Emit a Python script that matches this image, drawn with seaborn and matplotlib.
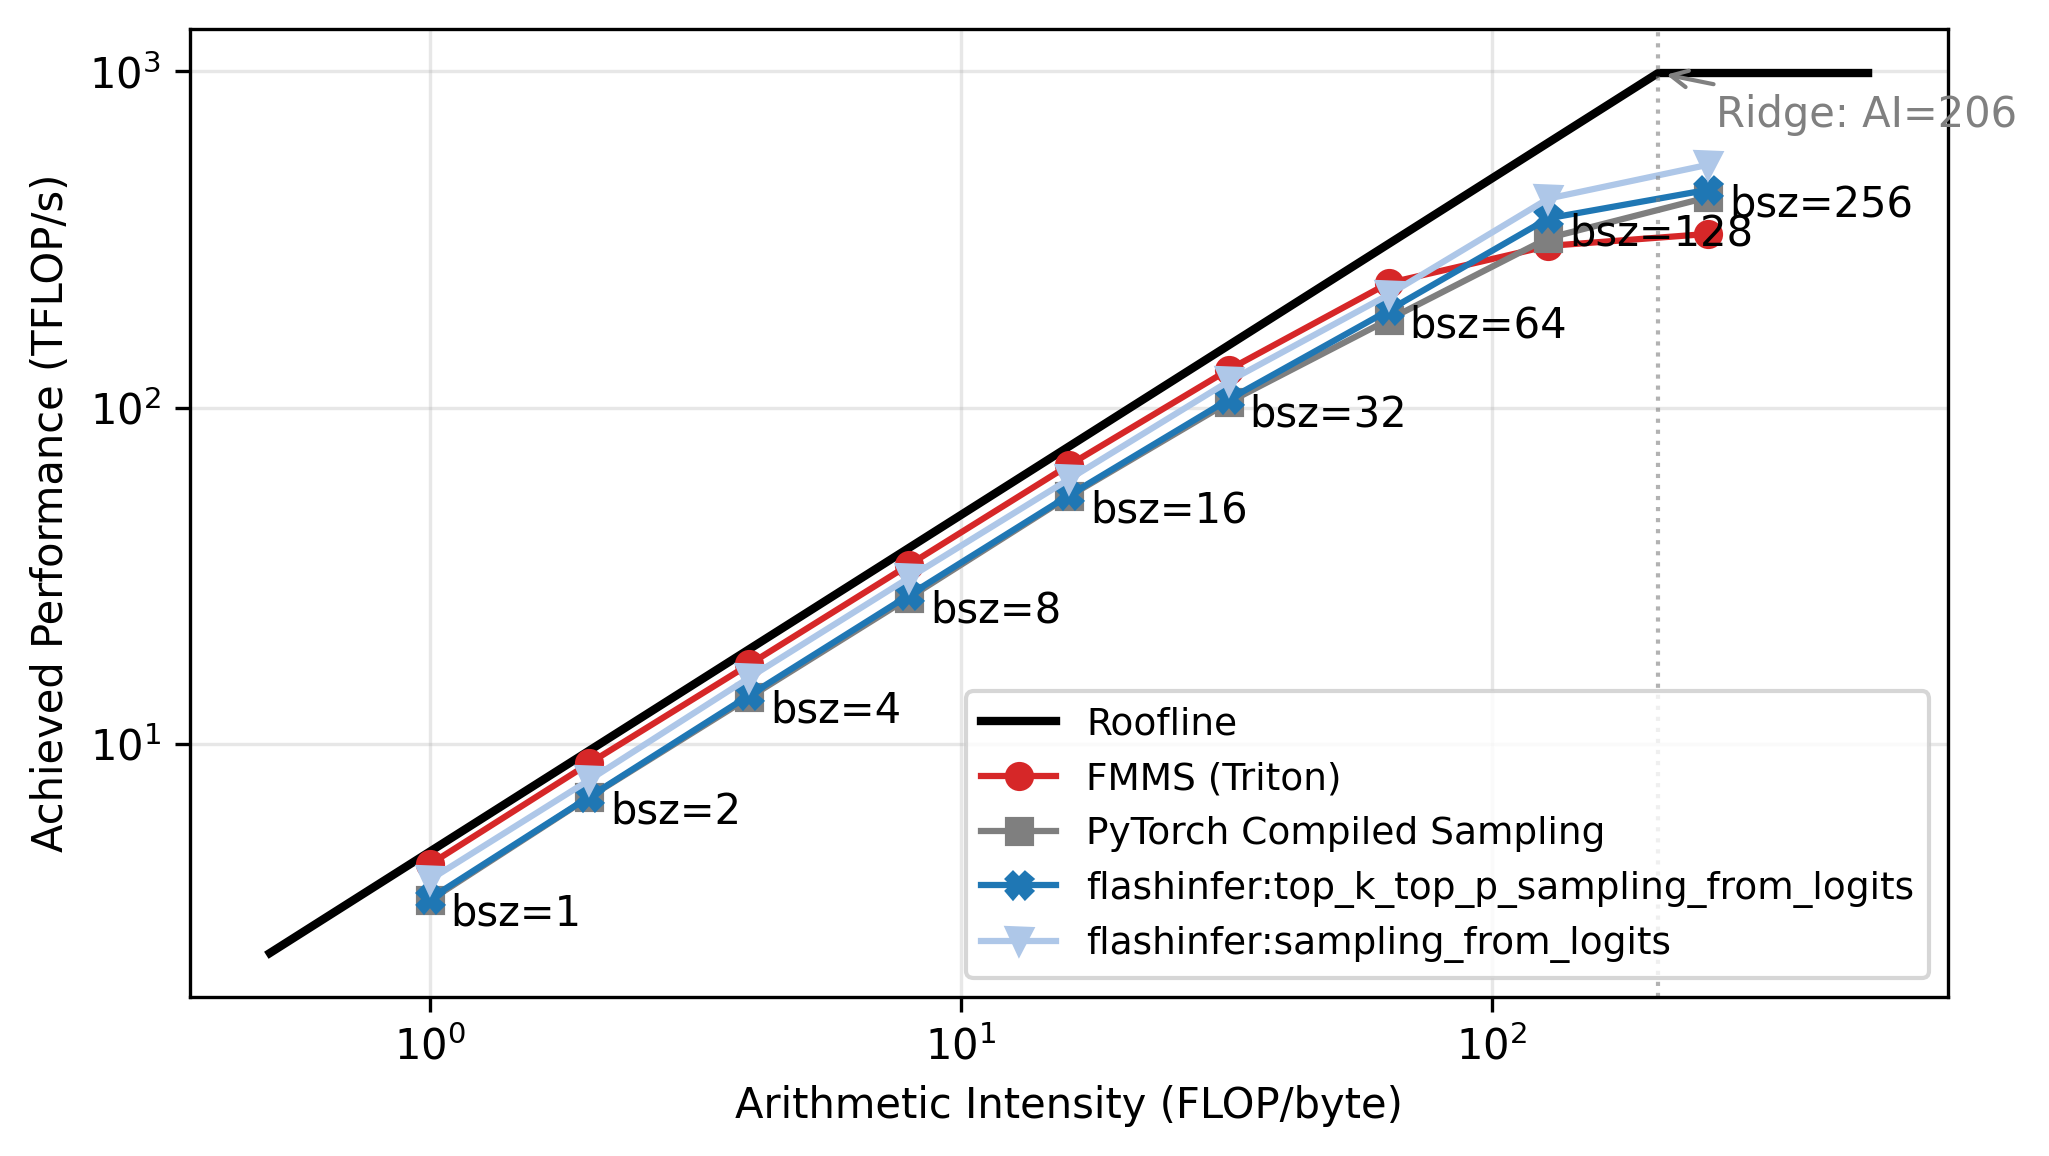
import numpy as np
import pandas as pd
import matplotlib
matplotlib.use("Agg")
import matplotlib.pyplot as plt
import seaborn as sns

# batch sizes == arithmetic intensity (FLOP/byte)
bsz = [1, 2, 4, 8, 16, 32, 64, 128, 256]

# achieved TFLOP/s
fmms = [4.4, 8.8, 17.3, 34.2, 67.6, 130, 235, 303, 329]
torch_compiled = [3.44, 6.98, 13.8, 27.3, 54.6, 104, 183, 320, 423]
fi_topk_topp = [3.48, 7.0, 14.0, 27.8, 55, 106, 195, 366, 445]
fi_sampling = [3.96, 7.85, 15.8, 31.3, 61.4, 120, 217, 419, 528]

# roofline (H200-ish: 989 TFLOP/s, 4.8 TB/s)
roof_ai = [0.5, 206, 512]
roof_perf = [2.4, 989, 989]
ridge_ai = 206

series = [
    ("FMMS (Triton)", fmms, "#d62728", "o"),
    ("PyTorch Compiled Sampling", torch_compiled, "#7f7f7f", "s"),
    ("flashinfer:top_k_top_p_sampling_from_logits", fi_topk_topp, "#1f77b4", "X"),
    ("flashinfer:sampling_from_logits", fi_sampling, "#aec7e8", "v"),
]

fig = plt.figure(figsize=(2049 / 300, 1156 / 300), dpi=300)
ax = fig.add_subplot(111)
fig.subplots_adjust(left=0.0927, right=0.9507, top=0.9749, bottom=0.1375)

sns.lineplot(x=roof_ai, y=roof_perf, color="black", linewidth=2, label="Roofline", ax=ax)

for name, vals, col, mk in series:
    sns.lineplot(x=bsz, y=vals, color=col, marker=mk, markersize=6,
                 markeredgecolor=col, markeredgewidth=1, linewidth=1.5,
                 label=name, ax=ax)

ax.set_xscale("log")
ax.set_yscale("log")
ax.minorticks_off()
ax.grid(True, which="major", alpha=0.3)

ax.axvline(ridge_ai, color="gray", linestyle=":", linewidth=1, alpha=0.6)
ax.annotate(f"Ridge: AI={ridge_ai}", xy=(ridge_ai, roof_perf[1]), xytext=(14, -13),
            textcoords="offset points", color="gray", fontsize=10,
            arrowprops=dict(arrowstyle="->", color="gray"))

for b, v in zip(bsz, fi_topk_topp):
    ax.annotate(f"bsz={b}", xy=(b, v), xytext=(5, -6.5), textcoords="offset points",
                fontsize=10, va="baseline", ha="left")

ax.set_xlabel("Arithmetic Intensity (FLOP/byte)", fontsize=10)
ax.set_ylabel("Achieved Performance (TFLOP/s)", fontsize=10)
ax.legend(loc="lower right", fontsize=9)

fig.savefig("out.png", dpi=300)
